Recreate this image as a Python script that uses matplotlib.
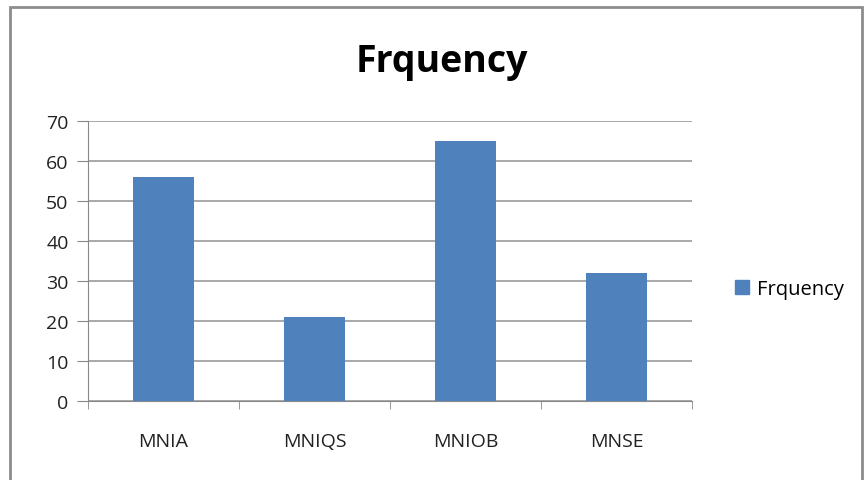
import matplotlib.pyplot as plt
from matplotlib.patches import Rectangle, Patch

categorias = ['MNIA', 'MNIQS', 'MNIOB', 'MNSE']
frequencia = [56, 21, 65, 32]
yticks = [0, 10, 20, 30, 40, 50, 60, 70]

plt.rcParams['font.family'] = ['Open Sans', 'DejaVu Sans']

fig = plt.figure(figsize=(8.65, 4.81), dpi=100)
# moldura cinza do grafico
fig.patches.append(Rectangle((10/865, -0.01), 852/865, 1 - 8/481 + 0.01,
                             transform=fig.transFigure, fill=False,
                             edgecolor='#8c8c8c', linewidth=2))

ax = fig.add_axes([88/865, 1 - 402/481, 604/865, 280/481])
x = range(len(categorias))
ax.bar(x, frequencia, width=0.4, color='#4f81bd', zorder=3)

ax.set_xlim(-0.5, len(categorias) - 0.5)
ax.set_ylim(0, 70)
ax.set_yticks(yticks)
ax.set_xticks(list(x))
ax.set_xticklabels(categorias)
ax.tick_params(axis='x', length=0, pad=22, labelsize=14, colors='#222222')
ax.set_xticks([i - 0.5 for i in range(len(categorias) + 1)], minor=True)
ax.tick_params(axis='x', which='minor', length=6, color='#888888')
ax.tick_params(axis='y', length=8, color='#888888', labelsize=14, colors='#222222', pad=6)
ax.tick_params(axis='y', color='#888888')

ax.grid(axis='y', color='#999999', linewidth=1.2, zorder=0)
for s in ['top', 'right']:
    ax.spines[s].set_visible(False)
ax.spines['left'].set_color('#888888')
ax.spines['bottom'].set_color('#888888')

fig.text(442/865, 1 - 62/481, 'Frquency', ha='center', va='center',
         fontsize=27, fontweight='bold')

fig.legend(handles=[Patch(color='#4f81bd', label='Frquency')],
           loc='center left', bbox_to_anchor=(717/865, 1 - 290/481),
           frameon=False, fontsize=14.5, handlelength=0.7, handleheight=0.7,
           handletextpad=0.4)

fig.savefig('out.png', dpi=100)
